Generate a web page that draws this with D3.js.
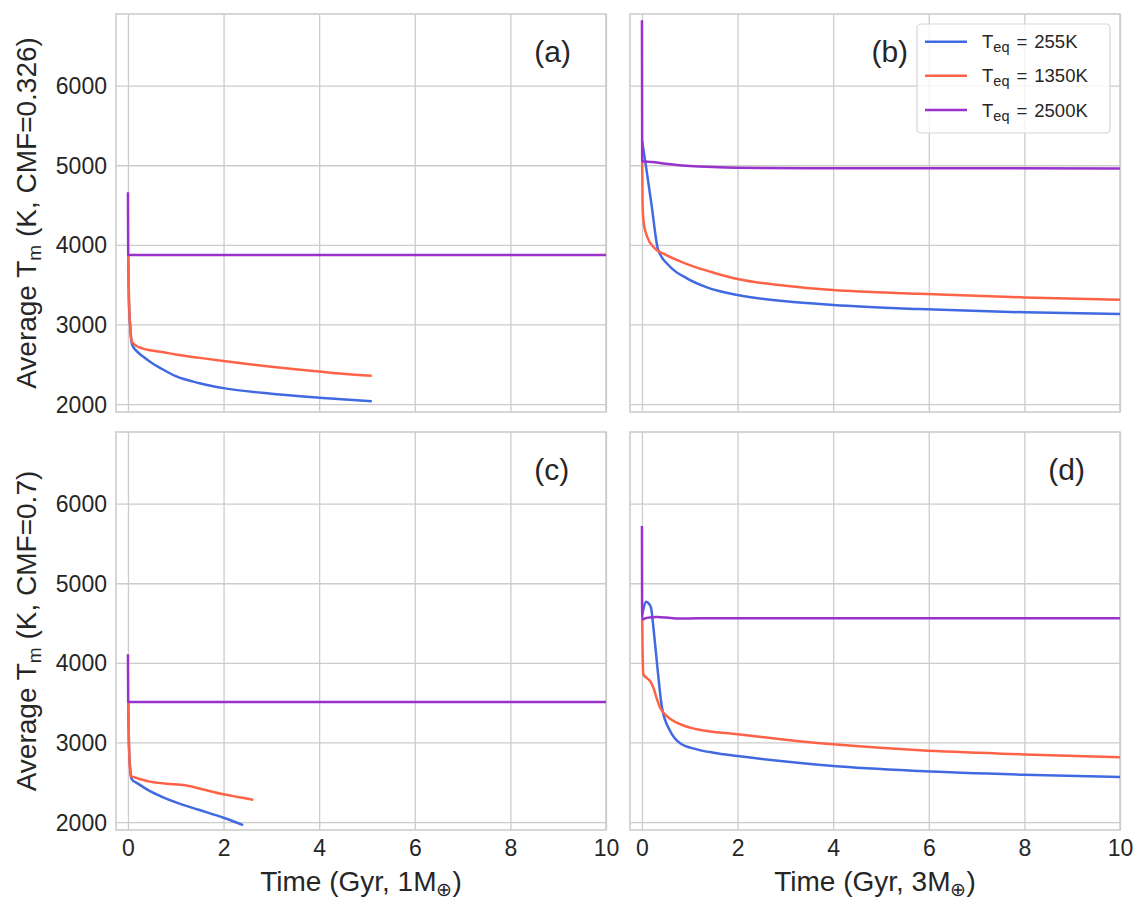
<!DOCTYPE html>
<html>
<head>
<meta charset="utf-8">
<script src="https://cdn.jsdelivr.net/npm/d3@7/dist/d3.min.js"></script>
<style>
  html, body { margin: 0; padding: 0; background: #ffffff; }
  svg text { font-family: "Liberation Sans", Arial, sans-serif; fill: #262626; }
</style>
</head>
<body>
<svg id="chart" width="1148" height="913"></svg>
<script>
// ---------------- data ----------------
const seriesNames = ["255K", "1350K", "2500K"];
const seriesColors = ["#4169e1", "#ff6347", "#9932cc"];
const xTicks = [0, 2, 4, 6, 8, 10];
const yTicks = [2000, 3000, 4000, 5000, 6000];
const panelLetters = ["(a)", "(b)", "(c)", "(d)"];

// Panel (a): 1 Earth mass, CMF = 0.326
const tA_blue = [0.005, 0.02, 0.05, 0.08, 0.12, 0.2, 0.33, 0.5, 0.67, 1.0, 1.5, 2.0, 3.0, 4.0, 5.1];
const vA_blue = [3870, 3300, 2950, 2760, 2710, 2655, 2590, 2515, 2455, 2350, 2262, 2200, 2130, 2080, 2034];
const tA_red  = [0.005, 0.02, 0.05, 0.08, 0.15, 0.3, 0.5, 0.8, 1.0, 1.5, 2.0, 2.5, 3.0, 3.5, 4.0, 4.5, 5.1];
const vA_red  = [3870, 3350, 2950, 2790, 2740, 2700, 2672, 2645, 2622, 2580, 2540, 2503, 2469, 2437, 2408, 2380, 2355];
const tA_purp = [0, 0.005, 0.05, 1, 5, 10];
const vA_purp = [4660, 3875, 3872, 3872, 3872, 3872];

// Panel (b): 3 Earth masses, CMF = 0.326
const tB_blue = [0.005, 0.1, 0.2, 0.34, 0.59, 0.94, 1.36, 2.0, 3.0, 4.0, 5.8, 8, 10];
const vB_blue = [5300, 4923, 4505, 3935, 3725, 3579, 3466, 3370, 3290, 3244, 3193, 3152, 3131];
const tB_red  = [0.005, 0.012, 0.03, 0.11, 0.27, 0.5, 0.75, 1.0, 1.5, 2.0, 3.0, 4.0, 5.8, 8, 10];
const vB_red  = [5050, 4550, 4311, 4100, 3956, 3875, 3805, 3745, 3650, 3570, 3486, 3432, 3385, 3340, 3310];
const tB_purp = [0, 0.005, 0.2, 0.5, 1.0, 1.6, 2.5, 4, 10];
const vB_purp = [6820, 5050, 5040, 5020, 4990, 4975, 4966, 4962, 4960];

// Panel (c): 1 Earth mass, CMF = 0.7
const tC_blue = [0.005, 0.02, 0.05, 0.08, 0.2, 0.46, 0.7, 1.02, 1.5, 2.0, 2.41];
const vC_blue = [3508, 3000, 2650, 2536, 2486, 2389, 2320, 2243, 2151, 2054, 1962];
const tC_red  = [0.005, 0.02, 0.04, 0.06, 0.15, 0.46, 0.8, 1.2, 1.58, 2.0, 2.3, 2.62];
const vC_red  = [3508, 3000, 2700, 2578, 2560, 2508, 2482, 2462, 2408, 2348, 2315, 2280];
const tC_purp = [0, 0.005, 0.05, 1, 5, 10];
const vC_purp = [4107, 3510, 3508, 3508, 3508, 3508];

// Panel (d): 3 Earth masses, CMF = 0.7
const tD_blue = [0.005, 0.09, 0.15, 0.19, 0.24, 0.31, 0.42, 0.59, 0.8, 1.15, 1.5, 2.0, 3.0, 4.0, 5.82, 8, 10];
const vD_blue = [4600, 4768, 4740, 4692, 4441, 4023, 3436, 3143, 2989, 2913, 2870, 2829, 2760, 2704, 2641, 2594, 2565];
const tD_red  = [0.005, 0.015, 0.03, 0.1, 0.17, 0.24, 0.31, 0.38, 0.52, 0.73, 1.15, 2.0, 3.0, 4.0, 5.82, 8, 10];
const vD_red  = [4547, 4100, 3855, 3810, 3771, 3687, 3550, 3436, 3332, 3248, 3165, 3102, 3035, 2976, 2901, 2850, 2813];
const tD_purp = [0, 0.005, 0.1, 0.31, 0.5, 0.77, 1.2, 10];
const vD_purp = [5719, 4547, 4565, 4575, 4570, 4557, 4560, 4560];

// ---------------- build ----------------
const zip = (t, v) => t.map((d, i) => ({t: d, v: v[i]}));
const panelData = [
  [zip(tA_blue, vA_blue), zip(tA_red, vA_red), zip(tA_purp, vA_purp)],
  [zip(tB_blue, vB_blue), zip(tB_red, vB_red), zip(tB_purp, vB_purp)],
  [zip(tC_blue, vC_blue), zip(tC_red, vC_red), zip(tC_purp, vC_purp)],
  [zip(tD_blue, vD_blue), zip(tD_red, vD_red), zip(tD_purp, vD_purp)]
];

const svg = d3.select("#chart");
const lefts = [116, 630], tops = [14, 432];
const pw = 490, ph = 398;
const labelPos = [[8.5, 6300], [4.8, 6300], [8.5, 6300], [8.5, 6300]];

panelData.forEach((series, pi) => {
  const col = pi % 2, row = Math.floor(pi / 2);
  const L = lefts[col], T = tops[row];
  const x = d3.scaleLinear().domain([-0.25, 10]).range([L, L + pw]);
  const y = d3.scaleLinear().domain([1900, 6900]).range([T + ph, T]);
  const g = svg.append("g");

  // grid
  const gx = g.append("g").attr("transform", `translate(0,${T + ph})`)
    .call(d3.axisBottom(x).tickValues(xTicks).tickSize(-ph).tickFormat(row === 1 ? d3.format("d") : ""));
  const gy = g.append("g").attr("transform", `translate(${L},0)`)
    .call(d3.axisLeft(y).tickValues(yTicks).tickSize(-pw).tickFormat(col === 0 ? d3.format("d") : ""));
  [gx, gy].forEach(a => {
    a.select(".domain").remove();
    a.selectAll(".tick line").attr("stroke", "#cccccc").attr("stroke-width", 1.3);
    a.selectAll(".tick text").style("font-size", "23px").attr("fill", "#262626");
  });
  gx.selectAll(".tick text").attr("dy", "0.98em");
  gy.selectAll(".tick text").attr("x", -9).attr("dy", "0.35em");

  // frame
  g.append("rect").attr("x", L).attr("y", T).attr("width", pw).attr("height", ph)
    .attr("fill", "none").attr("stroke", "#cccccc").attr("stroke-width", 1.6);

  // clip
  const cid = "clip" + pi;
  svg.append("clipPath").attr("id", cid).append("rect")
    .attr("x", L).attr("y", T).attr("width", pw).attr("height", ph);

  const line = d3.line().x(d => x(d.t)).y(d => y(d.v)).curve(d3.curveMonotoneX);
  series.forEach((s, si) => {
    g.append("path").datum(s).attr("d", line).attr("fill", "none")
      .attr("stroke", seriesColors[si]).attr("stroke-width", 2.5)
      .attr("stroke-linejoin", "round").attr("stroke-linecap", "butt")
      .attr("clip-path", `url(#${cid})`);
  });

  // panel letter
  g.append("text").attr("x", x(labelPos[pi][0])).attr("y", y(labelPos[pi][1]))
    .style("font-size", "30px").text(panelLetters[pi]);

  // x label
  if (row === 1) {
    const xl = g.append("text").attr("x", L + pw / 2).attr("y", 891)
      .attr("text-anchor", "middle").style("font-size", "28px");
    xl.append("tspan").text(col === 0 ? "Time (Gyr, 1M" : "Time (Gyr, 3M");
    xl.append("tspan").text("⊕").style("font-size", "19px").attr("dy", 5);
    xl.append("tspan").text(")").attr("dy", -5);
  }
  // y label
  if (col === 0) {
    const yl = g.append("text")
      .attr("transform", `translate(36,${T + ph / 2}) rotate(-90)`)
      .attr("text-anchor", "middle").style("font-size", "28px");
    yl.append("tspan").text("Average T");
    yl.append("tspan").text("m").style("font-size", "19px").attr("dy", 5);
    yl.append("tspan").text(row === 0 ? " (K, CMF=0.326)" : " (K, CMF=0.7)").attr("dy", -5);
  }
});

// legend (in panel b)
const lg = svg.append("g");
lg.append("rect").attr("x", 917).attr("y", 24).attr("width", 193).attr("height", 109)
  .attr("rx", 4).attr("fill", "#ffffff").attr("fill-opacity", 0.8)
  .attr("stroke", "#d5d5d5").attr("stroke-width", 1.2);
const ly = d3.scalePoint().domain(seriesNames).range([41.7, 110]);
seriesNames.forEach((n, i) => {
  lg.append("line").attr("x1", 925).attr("x2", 967).attr("y1", ly(n)).attr("y2", ly(n))
    .attr("stroke", seriesColors[i]).attr("stroke-width", 2.5);
  const t = lg.append("text").attr("x", 982).attr("y", ly(n) + 6.5).style("font-size", "18.5px");
  t.append("tspan").text("T");
  t.append("tspan").text("eq").style("font-size", "14.5px").attr("dy", 4);
  t.append("tspan").text("=").attr("dy", -4).attr("dx", 7);
  t.append("tspan").text(n).attr("dx", 7);
});
</script>
</body>
</html>
